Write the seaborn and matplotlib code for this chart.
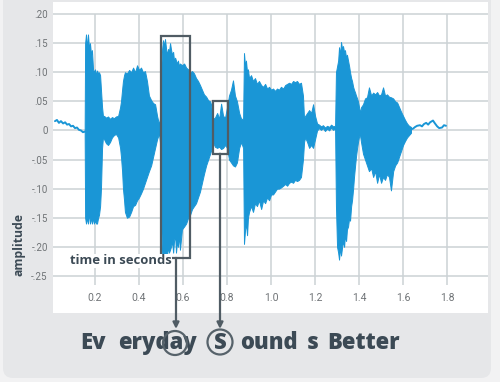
import matplotlib
matplotlib.use("Agg")
import matplotlib.pyplot as plt
import seaborn as sns
from matplotlib.patches import Rectangle, Ellipse, FancyBboxPatch

# ---------------- data ----------------
xtick_vals = [0.2, 0.4, 0.6, 0.8, 1.0, 1.2, 1.4, 1.6, 1.8]
xtick_labels = ["0.2", "0.4", "0.6", "0.8", "1.0", "1.2", "1.4", "1.6", "1.8"]
ytick_vals = [0.20, 0.15, 0.10, 0.05, 0.0, -0.05, -0.10, -0.15, -0.20, -0.25]
ytick_labels = [".20", ".15", ".10", ".05", "0", "-.05", "-.10", "-.15", "-.20", "-.25"]

# quiet (near-silent) stretches drawn as a line
quiet1_t = [0.018, 0.027, 0.036, 0.045, 0.055, 0.064, 0.073, 0.082, 0.091, 0.100,
            0.109, 0.118, 0.127, 0.136, 0.145, 0.155]
quiet1_v = [0.016, 0.018, 0.013, 0.016, 0.012, 0.014, 0.010, 0.011, 0.007, 0.008,
            0.004, 0.005, 0.001, 0.000, -0.003, -0.002]
quiet3_t = [1.636, 1.645, 1.655, 1.664, 1.677, 1.686, 1.695, 1.705, 1.714, 1.723,
            1.736, 1.745, 1.755, 1.764, 1.777, 1.786, 1.795]
quiet3_v = [0.002, 0.003, 0.006, 0.008, 0.009, 0.007, 0.011, 0.013, 0.010, 0.014,
            0.017, 0.012, 0.007, 0.004, 0.005, 0.009, 0.008]

# envelope of the voiced part of the waveform (time, upper, lower)
env_t = [0.153, 0.155, 0.159, 0.164, 0.168, 0.173, 0.177, 0.182, 0.186, 0.191,
         0.195, 0.200, 0.205, 0.209, 0.214, 0.218, 0.223, 0.227, 0.232, 0.236,
         0.241, 0.250, 0.259, 0.268, 0.277, 0.286, 0.295, 0.305, 0.314, 0.318,
         0.323, 0.327, 0.332, 0.336, 0.345, 0.355, 0.364, 0.373, 0.382, 0.391,
         0.400, 0.409, 0.418, 0.427, 0.436, 0.445, 0.455, 0.464, 0.473, 0.482,
         0.491, 0.495, 0.500, 0.505, 0.509, 0.514, 0.518, 0.523, 0.527, 0.532,
         0.536, 0.541, 0.545, 0.550, 0.555, 0.559, 0.564, 0.568, 0.573, 0.577,
         0.582, 0.586, 0.595, 0.605, 0.614, 0.623, 0.632, 0.641, 0.650, 0.659,
         0.668, 0.677, 0.686, 0.695, 0.705, 0.714, 0.723, 0.727, 0.732, 0.736,
         0.745, 0.755, 0.764, 0.773, 0.782, 0.791, 0.800, 0.809, 0.818, 0.827,
         0.836, 0.845, 0.855, 0.864, 0.873, 0.877, 0.882, 0.886, 0.891, 0.895,
         0.900, 0.909, 0.918, 0.927, 0.936, 0.945, 0.955, 0.964, 0.973, 0.982,
         0.991, 1.000, 1.009, 1.018, 1.027, 1.036, 1.045, 1.055, 1.064, 1.073,
         1.082, 1.091, 1.100, 1.109, 1.118, 1.127, 1.136, 1.145, 1.150, 1.155,
         1.164, 1.173, 1.182, 1.191, 1.200, 1.209, 1.218, 1.227, 1.236, 1.245,
         1.255, 1.264, 1.273, 1.282, 1.291, 1.295, 1.300, 1.305, 1.309, 1.314,
         1.318, 1.323, 1.327, 1.332, 1.336, 1.341, 1.345, 1.350, 1.355, 1.359,
         1.364, 1.368, 1.373, 1.377, 1.382, 1.386, 1.391, 1.395, 1.400, 1.405,
         1.409, 1.418, 1.427, 1.436, 1.445, 1.455, 1.464, 1.473, 1.482, 1.491,
         1.500, 1.509, 1.518, 1.527, 1.536, 1.545, 1.555, 1.564, 1.573, 1.582,
         1.591, 1.600, 1.609, 1.618, 1.627, 1.636]
env_hi = [0.010, 0.150, 0.165, 0.140, 0.165, 0.140, 0.150, 0.130, 0.138, 0.105,
          0.100, 0.105, 0.095, 0.103, 0.098, 0.100, 0.095, 0.070, 0.040, 0.025,
          0.025, 0.022, 0.024, 0.020, 0.023, 0.021, 0.024, 0.025, 0.040, 0.050,
          0.070, 0.085, 0.095, 0.100, 0.098, 0.104, 0.100, 0.108, 0.100, 0.112,
          0.104, 0.108, 0.100, 0.102, 0.085, 0.060, 0.052, 0.047, 0.045, 0.025,
          0.010, 0.020, 0.100, 0.140, 0.155, 0.145, 0.157, 0.140, 0.130, 0.140,
          0.135, 0.150, 0.140, 0.130, 0.135, 0.120, 0.125, 0.120, 0.115, 0.120,
          0.110, 0.115, 0.112, 0.115, 0.108, 0.105, 0.100, 0.102, 0.098, 0.090,
          0.085, 0.078, 0.070, 0.062, 0.058, 0.052, 0.050, 0.045, 0.030, 0.020,
          0.022, 0.030, 0.020, 0.046, 0.025, 0.022, 0.040, 0.060, 0.070, 0.086,
          0.060, 0.050, 0.030, 0.020, 0.020, 0.133, 0.110, 0.120, 0.100, 0.105,
          0.090, 0.095, 0.085, 0.090, 0.080, 0.085, 0.078, 0.075, 0.080, 0.072,
          0.075, 0.070, 0.072, 0.068, 0.072, 0.070, 0.075, 0.072, 0.078, 0.080,
          0.082, 0.080, 0.085, 0.083, 0.085, 0.080, 0.082, 0.060, 0.020, 0.025,
          0.030, 0.035, 0.030, 0.045, 0.025, 0.012, 0.010, 0.007, 0.009, 0.005,
          0.008, 0.006, 0.010, 0.007, 0.008, 0.100, 0.110, 0.120, 0.143, 0.130,
          0.152, 0.140, 0.145, 0.135, 0.138, 0.125, 0.130, 0.120, 0.110, 0.100,
          0.090, 0.085, 0.075, 0.070, 0.065, 0.060, 0.055, 0.050, 0.040, 0.030,
          0.040, 0.045, 0.055, 0.057, 0.074, 0.060, 0.065, 0.062, 0.066, 0.060,
          0.062, 0.074, 0.060, 0.062, 0.058, 0.057, 0.055, 0.050, 0.048, 0.040,
          0.032, 0.025, 0.018, 0.012, 0.008, 0.006]
env_lo = [-0.010, -0.150, -0.160, -0.150, -0.160, -0.140, -0.160, -0.150, -0.160, -0.150,
          -0.160, -0.155, -0.160, -0.160, -0.150, -0.145, -0.130, -0.100, -0.030, -0.012,
          -0.015, -0.022, -0.025, -0.020, -0.012, -0.008, -0.006, -0.012, -0.030, -0.045,
          -0.070, -0.100, -0.120, -0.140, -0.150, -0.148, -0.140, -0.130, -0.128, -0.120,
          -0.115, -0.108, -0.100, -0.090, -0.080, -0.070, -0.060, -0.045, -0.030, -0.015,
          -0.005, -0.020, -0.150, -0.210, -0.220, -0.205, -0.220, -0.210, -0.215, -0.200,
          -0.210, -0.205, -0.200, -0.190, -0.210, -0.190, -0.180, -0.210, -0.190, -0.200,
          -0.180, -0.205, -0.170, -0.165, -0.160, -0.150, -0.145, -0.135, -0.130, -0.125,
          -0.115, -0.105, -0.090, -0.075, -0.060, -0.050, -0.040, -0.035, -0.030, -0.020,
          -0.028, -0.030, -0.028, -0.032, -0.030, -0.025, -0.030, -0.050, -0.055, -0.060,
          -0.062, -0.055, -0.030, -0.020, -0.030, -0.195, -0.170, -0.160, -0.180, -0.150,
          -0.140, -0.130, -0.140, -0.125, -0.130, -0.120, -0.135, -0.120, -0.125, -0.115,
          -0.120, -0.110, -0.110, -0.105, -0.100, -0.100, -0.098, -0.095, -0.092, -0.095,
          -0.090, -0.088, -0.090, -0.085, -0.087, -0.085, -0.080, -0.050, -0.020, -0.012,
          -0.020, -0.030, -0.025, -0.030, -0.015, 0.000, 0.004, 0.001, 0.004, -0.001,
          0.003, 0.000, 0.005, 0.001, 0.003, -0.130, -0.200, -0.210, -0.222, -0.200,
          -0.215, -0.200, -0.190, -0.200, -0.180, -0.190, -0.170, -0.165, -0.150, -0.155,
          -0.130, -0.120, -0.100, -0.080, -0.060, -0.045, -0.030, -0.020, -0.010, -0.010,
          -0.020, -0.040, -0.050, -0.060, -0.070, -0.065, -0.080, -0.070, -0.090, -0.075,
          -0.090, -0.080, -0.085, -0.075, -0.080, -0.103, -0.070, -0.060, -0.055, -0.045,
          -0.035, -0.025, -0.018, -0.012, -0.008, -0.004]

# highlighted segments: (start, end, bottom, top) and arrow x positions
box1 = [0.500, 0.632, -0.219, 0.162]
box2 = [0.736, 0.805, -0.040, 0.050]
arrow_x = [0.568, 0.768]

# ---------------- style ----------------
sns.set_theme(style="white")
plt.rcParams["font.family"] = ["DejaVu Sans"]

W, H = 500, 382
wave = "#1a96d6"
grid_c = "#ccd2d5"
dark = "#3c4a55"
box_c = "#505c64"
tick_c = "#6f7376"
narrow = ["Liberation Sans Narrow", "Roboto", "DejaVu Sans"]
boldfam = ["Open Sans", "DejaVu Sans"]

fig = plt.figure(figsize=(W / 100, H / 100), dpi=100, facecolor="#f2f2f3")
card = FancyBboxPatch((0.03, 0.04), 4.88, 3.95, boxstyle="round,pad=0,rounding_size=0.1",
                      transform=fig.dpi_scale_trans, facecolor="#e6e7e9", edgecolor="none",
                      zorder=-5)
fig.patches.append(card)

ax = fig.add_axes([53 / W, 1 - 313 / H, 435 / W, 311 / H])
ax.set_zorder(1)
ax.set_facecolor("white")
for s in ax.spines.values():
    s.set_visible(False)

ax.set_xlim(0.009, 1.986)
ax.set_ylim(-0.3137, 0.2207)

# gridlines
for yv in ytick_vals:
    ax.axhline(yv, color=grid_c, lw=1.1, zorder=1)
ax.vlines(xtick_vals, -0.265, 0.20, color=grid_c, lw=1.1, zorder=1)

# waveform
ax.fill_between(env_t, env_lo, env_hi, color=wave, lw=0.7, edgecolor=wave, zorder=3)
sns.lineplot(x=quiet1_t, y=quiet1_v, ax=ax, color=wave, lw=1.4, zorder=3)
sns.lineplot(x=quiet3_t, y=quiet3_v, ax=ax, color=wave, lw=1.4, zorder=3)

# ticks
ax.set_yticks(ytick_vals)
ax.set_yticklabels(ytick_labels, fontsize=7, color=tick_c, family=narrow)
ax.set_xticks(xtick_vals)
ax.set_xticklabels(xtick_labels, fontsize=7.5, color=tick_c, family=narrow)
ax.tick_params(axis="y", length=0, pad=3.8)
ax.tick_params(axis="x", length=0, pad=-14.5)
ax.set_xlabel("")
ax.set_ylabel("")

# boxes
ax.add_patch(Rectangle((box1[0], box1[2]), box1[1] - box1[0], box1[3] - box1[2],
                       fill=False, edgecolor=box_c, lw=1.6, zorder=5))
ax.add_patch(Rectangle((box2[0], box2[2]), box2[1] - box2[0], box2[3] - box2[2],
                       fill=False, edgecolor=box_c, lw=1.6, zorder=5))

# arrows
for xa, ys in zip(arrow_x, [box1[2], box2[2]]):
    ax.annotate("", xy=(xa, -0.341), xytext=(xa, ys), xycoords="data",
                arrowprops=dict(arrowstyle="-|>", color=box_c, lw=1.6,
                                shrinkA=0, shrinkB=0, mutation_scale=9),
                annotation_clip=False, zorder=6)

# labels inside axes
ax.text(70 / W, 1 - 261 / H, "time in seconds", transform=fig.transFigure,
        fontsize=9.4, fontweight="bold", color=dark, family=boldfam, va="center", ha="left",
        bbox=dict(facecolor="white", edgecolor="none", pad=0.5), zorder=7)
fig.text(18.5 / W, 1 - 245 / H, "amplitude", rotation=90, fontsize=8.8, fontweight="bold",
         color=dark, family=boldfam, ha="center", va="center")

# phrase at bottom
base_y = 1 - 349 / H
fs = 15.8
for txt, xl in [("Ev", 80), ("eryday", 118), ("ound", 240), ("s", 307), ("Better", 327)]:
    fig.text(xl / W, base_y, txt, fontsize=fs, fontweight=800, color=dark,
             family=boldfam, ha="left", va="baseline")
fig.text(220 / W, base_y, "S", fontsize=fs, fontweight=800, color=dark,
         family=boldfam, ha="center", va="baseline")
for cx, cy, r in [(175, 343, 12), (220, 342, 12.5)]:
    fig.patches.append(Ellipse((cx / W, 1 - cy / H), 2 * r / W, 2 * r / H,
                               transform=fig.transFigure, fill=False,
                               edgecolor="#56626a", lw=1.6, zorder=8))

fig.savefig("out.png", dpi=100, facecolor=fig.get_facecolor())
